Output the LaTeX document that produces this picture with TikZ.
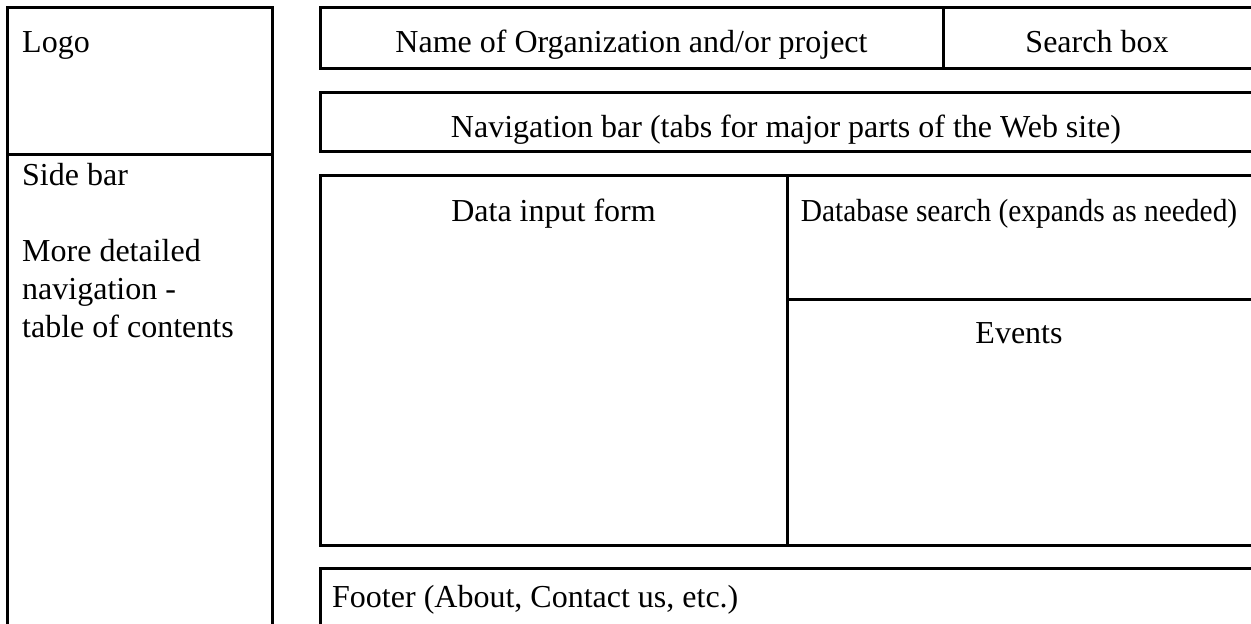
\documentclass[tikz,border=0pt]{standalone}
\usepackage{fontspec}
\setmainfont{Liberation Serif}
\begin{document}
\begin{tikzpicture}[x=1pt,y=-1pt,
  frame/.style={line width=3pt, line join=miter},
  lbl/.style={inner sep=0pt, anchor=base, font=\fontsize{32}{38}\selectfont},
  lblw/.style={lbl, anchor=base west}]
\useasboundingbox (0,0) rectangle (1251,624);
\clip (0,0) rectangle (1251,624);

% left column: logo and side bar
\draw[frame] (7.5,7.5) rectangle (272,640);
\draw[frame] (7.5,154) -- (272,154);

% header: organization name and search box
\draw[frame] (320.5,7.5) rectangle (1262,68.5);
\draw[frame] (943,7.5) -- (943,68.5);

% navigation bar
\draw[frame] (320.5,92.3) rectangle (1262,151);

% main content area
\draw[frame] (320.5,175.7) rectangle (1262,545);
\draw[frame] (787,175.7) -- (787,545);
\draw[frame] (787,299) -- (1262,299);

% footer
\draw[frame] (320.5,568) rectangle (1262,640);

% labels
\node[lblw] (logo) at (22,52) {Logo};
\node[lblw] (side) at (22,185) {Side bar};
\node[lblw] (side1) at (22,261) {More detailed};
\node[lblw] (side2) at (22,299) {navigation -};
\node[lblw] (side3) at (22,337) {table of contents};

\node[lbl] (org) at (631.5,52) {Name of Organization and/or project};
\node[lbl] (search) at (1097,52) {Search box};
\node[lbl] (nav) at (786,137) {Navigation bar (tabs for major parts of the Web site)};
\node[lbl] (form) at (553.5,221) {Data input form};
\node[lbl] (db) at (1019,221) {\scalebox{0.92}[1]{Database search (expands as needed)}};
\node[lbl] (events) at (1019,343) {Events};
\node[lblw] (footer) at (332,607) {Footer (About, Contact us, etc.)};
\end{tikzpicture}
\end{document}
